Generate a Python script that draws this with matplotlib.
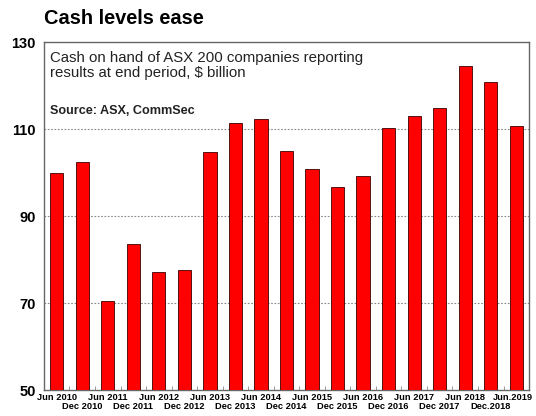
import numpy as np
from matplotlib import pyplot as plt

plt.rcParams['font.family'] = ['Liberation Sans', 'DejaVu Sans']

periods = ['Jun 2010', 'Dec 2010', 'Jun 2011', 'Dec 2011', 'Jun 2012', 'Dec 2012',
           'Jun 2013', 'Dec 2013', 'Jun 2014', 'Dec 2014', 'Jun 2015', 'Dec 2015',
           'Jun 2016', 'Dec 2016', 'Jun 2017', 'Dec 2017', 'Jun 2018', 'Dec.2018',
           'Jun.2019']
cash = [99.9, 102.5, 70.5, 83.6, 77.2, 77.7, 104.8, 111.3, 112.4, 104.9,
        100.7, 96.6, 99.1, 110.2, 113.1, 114.9, 124.6, 120.8, 110.6]
yticks = [50, 70, 90, 110, 130]

fig = plt.figure(figsize=(5.36, 4.16), dpi=100)
ax = fig.add_axes([0.082, 0.0625, 0.905, 0.8365])

x = np.arange(len(cash))
ax.bar(x, cash, width=0.52, color='#ff0000', edgecolor='#3a0000', linewidth=0.6,
       zorder=3)
ax.set_xlim(-0.5, len(cash) - 0.5)
ax.set_ylim(50, 130)
ax.set_yticks(yticks)
ax.set_yticklabels([str(v) for v in yticks], fontsize=10.5, fontweight='bold')
ax.tick_params(axis='y', length=0, pad=6)
for v in yticks[1:-1]:
    ax.axhline(v, color='#888888', linestyle=(0, (1.5, 1.5)), linewidth=0.8, zorder=1)

# small ticks between bars, labels on two rows
ax.set_xticks(x[:-1] + 0.5, minor=True)
ax.tick_params(axis='x', which='minor', direction='in', length=3, color='#888888')
ax.set_xticks(x)
ax.set_xticklabels([])
ax.tick_params(axis='x', which='major', length=0)
for i, lab in enumerate(periods):
    yoff = -0.010 if i % 2 == 0 else -0.034
    xi = i - 0.15 if i == len(periods) - 1 else i
    ax.text(xi, yoff, lab, transform=ax.get_xaxis_transform(), ha='center', va='top',
            fontsize=6.7, fontweight='bold')

for sp in ax.spines.values():
    sp.set_color('#666666')
    sp.set_linewidth(1.0)

fig.text(0.082, 0.955, 'Cash levels ease', fontsize=14.4, fontweight='bold', va='center')
ax.text(0.012, 0.975, 'Cash on hand of ASX 200 companies reporting\nresults at end period, $ billion',
        transform=ax.transAxes, ha='left', va='top', fontsize=10.8, color='#222222',
        linespacing=1.15)
ax.text(0.012, 0.818, 'Source: ASX, CommSec', transform=ax.transAxes, ha='left',
        va='top', fontsize=9.1, fontweight='bold', color='#222222')

fig.savefig('out.png', dpi=100)
